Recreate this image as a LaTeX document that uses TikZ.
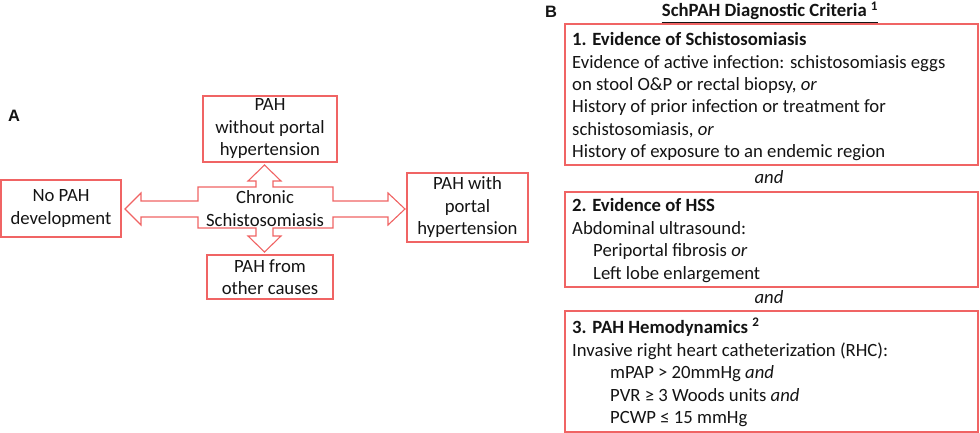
\documentclass[tikz,border=0pt]{standalone}
\usepackage{fontspec}
\setmainfont{Carlito}
\newfontfamily\arialfont{Liberation Sans}
\definecolor{boxred}{RGB}{240,100,100}
\definecolor{txtc}{RGB}{20,20,20}
\begin{document}
\begin{tikzpicture}[x=1pt,y=-1pt,
  every node/.style={text=txtc},
  abox/.style={draw=boxred, line width=1.1pt, inner sep=0pt, outer sep=0pt, align=center,
    font=\fontsize{18.7}{22.5}\selectfont},
  bbox/.style={draw=boxred, line width=1.4pt, inner sep=0pt, outer sep=0pt, minimum width=413pt},
  txt/.style={anchor=base west, inner sep=0pt, font=\fontsize{18.7}{22.5}\selectfont},
  andtxt/.style={anchor=base, inner sep=0pt, font=\fontsize{18.7}{22.5}\selectfont\itshape},
  lbl/.style={inner sep=0pt, font=\arialfont\bfseries\fontsize{16.5}{18}\selectfont}]
\useasboundingbox (0,0) rectangle (980,433);

% ---------- Panel A ----------
\node[lbl] (labA) at (14,116) {A};

\node[abox, minimum width=134pt, minimum height=66pt] (top) at (270,129)
  {PAH\\without portal\\hypertension};
\node[abox, minimum width=120pt, minimum height=57pt] (left) at (61,208.5)
  {No PAH\\development};
\node[abox, minimum width=121pt, minimum height=69pt] (right) at (467.5,207.5)
  {PAH with\\portal\\hypertension};
\node[abox, minimum width=126pt, minimum height=44pt] (bottom) at (270,277)
  {PAH from\\other causes};

% cross-shaped four-way arrow
\draw[draw=boxred, line width=1.1pt, fill=white, line join=miter]
  (125,209) -- (141,193) -- (141,201) -- (198,201) -- (198,187) -- (256,187)
  -- (256,181) -- (248,181) -- (264.5,165) -- (281,181) -- (273,181) -- (273,187)
  -- (333,187) -- (333,201) -- (388,201) -- (388,193) -- (405,209) -- (388,225)
  -- (388,217) -- (333,217) -- (333,228) -- (273,228) -- (273,236) -- (281,236)
  -- (264.5,252) -- (248,236) -- (256,236) -- (256,228) -- (198,228) -- (198,217)
  -- (141,217) -- (141,225) -- cycle;
\node[abox, draw=none, fill=none] (chronic) at (265,208.5) {Chronic\\Schistosomiasis};

% ---------- Panel B ----------
\node[lbl] (labB) at (551,12) {B};
\node[inner sep=0pt, anchor=base, font=\fontsize{18.7}{22.5}\selectfont\bfseries] (title) at (770,17)
  {SchPAH Diagnostic Criteria \textsuperscript{1}};
\draw[line width=0.9pt, txtc] ([yshift=-2.5pt]title.south west) -- ([yshift=-2.5pt]title.south east);

\node[bbox, minimum height=141pt] (box1) at (771.5,94.5) {};
\node[bbox, minimum height=95pt] (box2) at (771.5,239.5) {};
\node[bbox, minimum height=121pt] (box3) at (771.5,371.5) {};

\node[txt, font=\fontsize{18.7}{22.5}\selectfont\bfseries] (b1a) at (572,46) {1. Evidence of Schistosomiasis};
\node[txt] (b1b) at (572,68.3) {Evidence of active infection: schistosomiasis eggs};
\node[txt] (b1c) at (572,90.6) {on stool O\&P or rectal biopsy, \textit{or}};
\node[txt] (b1d) at (572,112.9) {History of prior infection or treatment for};
\node[txt] (b1e) at (572,135.2) {schistosomiasis, \textit{or}};
\node[txt] (b1f) at (572,157.5) {History of exposure to an endemic region};

\node[andtxt] (and1) at (769,183) {and};

\node[txt, font=\fontsize{18.7}{22.5}\selectfont\bfseries] (b2a) at (572,211) {2. Evidence of HSS};
\node[txt] (b2b) at (572,234) {Abdominal ultrasound:};
\node[txt] (b2c) at (593,256) {Periportal fibrosis \textit{or}};
\node[txt] (b2d) at (593,279) {Left lobe enlargement};

\node[andtxt] (and2) at (769,303) {and};

\node[txt, font=\fontsize{18.7}{22.5}\selectfont\bfseries] (b3a) at (572,333) {3. PAH Hemodynamics \textsuperscript{2}};
\node[txt] (b3b) at (572,356) {Invasive right heart catheterization (RHC):};
\node[txt] (b3c) at (610,378) {mPAP > 20mmHg \textit{and}};
\node[txt] (b3d) at (610,401) {PVR ≥ 3 Woods units \textit{and}};
\node[txt] (b3e) at (610,423) {PCWP ≤ 15 mmHg};
\end{tikzpicture}
\end{document}
